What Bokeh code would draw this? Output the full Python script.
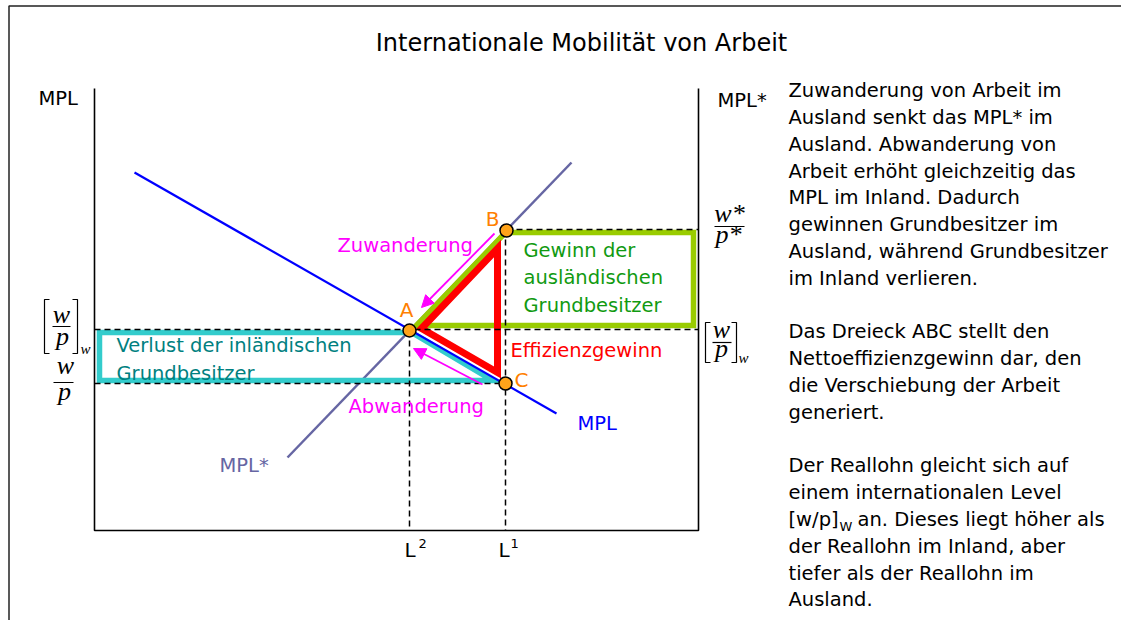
from bokeh.plotting import figure
from bokeh.models import Range1d, ColumnDataSource, Arrow, NormalHead
from bokeh.core.properties import value
from bokeh.embed import file_html
from bokeh.resources import INLINE

# ---------------- data (diagram coordinates) ----------------
title_text = "Internationale Mobilität von Arbeit"

# axes: left MPL axis, L axis, right MPL* axis
axis_x = [94, 94, 698, 698]
axis_y = [88, 530, 530, 88]

# marginal product curves
mpl_x = [134, 556]
mpl_y = [172, 413]
mpls_x = [287, 571]
mpls_y = [457, 162]

# equilibrium points
pt_names = ["A", "B", "C"]
pt_x = [409, 506, 505]
pt_y = [330, 230, 383]

# dashed guide lines
dash_xs = [[94, 698], [94, 505], [506, 698], [409, 409], [505, 505]]
dash_ys = [[329, 329], [383, 383], [229, 229], [330, 530], [229, 530]]

# areas
cyan_x = [99, 411, 492, 99]
cyan_y = [332, 332, 380, 380]
green_x = [416, 505, 693, 693]
green_y = [325, 232, 232, 325]
red_x = [421, 497, 497]
red_y = [328, 248, 372]

# migration arrows
arr_x0 = [494, 482]
arr_y0 = [233, 384]
arr_x1 = [421, 413]
arr_y1 = [307, 348]

# chart labels
lab_text = ["Zuwanderung", "Abwanderung", "Gewinn der", "ausländischen", "Grundbesitzer",
            "Effizienzgewinn", "Verlust der inländischen", "Grundbesitzer", "MPL", "MPL*",
            "MPL", "MPL*"]
lab_x = [337, 348, 523, 523, 523, 510, 116, 116, 577, 219, 38, 717]
lab_y = [253, 414, 258, 285, 313, 358, 353, 381, 431, 473, 106, 108]
lab_col = ["#FF00FF", "#FF00FF", "#119A11", "#119A11", "#119A11", "#FF0000",
           "#008080", "#008080", "#0000FF", "#6666A3", "black", "black"]

pt_lab_x = [406, 492, 521]
pt_lab_y = [317, 226, 387]

# L axis labels
l_x = [404, 498]
l_y = [557, 557]
l_sup = ["2", "1"]
l_sup_x = [418, 510]
l_sup_y = [548, 548]

# wage fractions (italic serif)
frac_text = ["w", "p", "w", "p", "w*", "p*", "w", "p"]
frac_x = [61, 62, 65, 64, 729, 728, 721, 721]
frac_y = [324, 346, 375, 401, 223, 244, 339, 358]
sub_text = ["w", "w"]
sub_x = [80, 738]
sub_y = [354, 363]
bar_xs = [[52, 70], [53, 73], [714, 744], [712, 731]]
bar_ys = [[326, 326], [382, 382], [226, 226], [342, 342]]
brk_xs = [[49, 44, 44, 49], [72, 77, 77, 72], [710, 705, 705, 710], [731, 736, 736, 731]]
brk_ys = [[299, 299, 353, 353], [299, 299, 353, 353], [322, 322, 362, 362], [322, 322, 362, 362]]

# explanatory text
para_lines = ["Zuwanderung von Arbeit im", "Ausland senkt das MPL* im", "Ausland. Abwanderung von",
              "Arbeit erhöht gleichzeitig das", "MPL im Inland. Dadurch", "gewinnen Grundbesitzer im",
              "Ausland, während Grundbesitzer", "im Inland verlieren.",
              "Das Dreieck ABC stellt den", "Nettoeffizienzgewinn dar, den", "die Verschiebung der Arbeit",
              "generiert.",
              "Der Reallohn gleicht sich auf", "einem internationalen Level", "[w/p]",
              "der Reallohn im Inland, aber", "tiefer als der Reallohn im", "Ausland."]
para_rows = [0, 1, 2, 3, 4, 5, 6, 7, 9, 10, 11, 12, 14, 15, 16, 17, 18, 19]
para_x0 = 788
para_base = 98
para_pitch = 26.8

# ---------------- figure ----------------
W, H = 1121, 620
p = figure(width=W, height=H, x_range=Range1d(0, W), y_range=Range1d(H, 0),
           x_axis_type=None, y_axis_type=None, output_backend="svg",
           toolbar_location=None, min_border=0)
p.grid.visible = False
p.outline_line_color = None
p.background_fill_color = "white"

SANS = value("DejaVu Sans")
SERIF = value("Liberation Serif")


def bl(ys, size):
    # compensate the renderer's baseline placement (glyphs sit ~0.4em low)
    return [y - 0.4 * size for y in ys]


# frame border
p.line([8.5, 8.5, 1200], [640, 5.5, 5.5], line_color="#222222", line_width=1.5)

# axes
p.line(axis_x, axis_y, line_color="black", line_width=1.6)

# curves and areas
p.line(mpls_x, mpls_y, line_color="#6666A3", line_width=2.5)
p.patch(cyan_x, cyan_y, fill_color=None, line_color="#33CCCC", line_width=5.5, line_join="miter")
p.line(mpl_x, mpl_y, line_color="#0000FF", line_width=2.2)
p.patch(green_x, green_y, fill_color=None, line_color="#99CC00", line_width=5.5, line_join="miter")
p.patch(red_x, red_y, fill_color=None, line_color="#FF0000", line_width=7, line_join="miter")

# dashed lines
p.multi_line(dash_xs, dash_ys, line_color="black", line_width=1.5, line_dash="6 4")

# arrows
arr_src = ColumnDataSource(dict(x0=arr_x0, y0=arr_y0, x1=arr_x1, y1=arr_y1))
p.add_layout(Arrow(source=arr_src, x_start="x0", y_start="y0", x_end="x1", y_end="y1",
                   line_color="#FF00FF", line_width=1.8,
                   end=NormalHead(size=12, fill_color="#FF00FF", line_color="#FF00FF")))

# points
p.scatter(pt_x, pt_y, size=13, fill_color="#FFA31A", line_color="black", line_width=1.5)

# title
p.text([581], bl([52], 24), text=[title_text], text_font=SANS, text_font_size="24px",
       text_align="center", text_baseline="alphabetic", text_color="black")

# labels
p.text(lab_x, bl(lab_y, 19.5), text=lab_text, text_color=lab_col, text_font=SANS,
       text_font_size="19.5px", text_align="left", text_baseline="alphabetic")
p.text(pt_lab_x, bl(pt_lab_y, 20), text=pt_names, text_color="#FF8000", text_font=SANS,
       text_font_size="20px", text_align="center", text_baseline="alphabetic")
p.text(l_x, bl(l_y, 20), text=["L", "L"], text_color="black", text_font=SANS, text_font_size="20px",
       text_align="left", text_baseline="alphabetic")
p.text(l_sup_x, bl(l_sup_y, 13), text=l_sup, text_color="black", text_font=SANS,
       text_font_size="13px", text_align="left", text_baseline="alphabetic")

# fractions
p.text(frac_x, bl(frac_y, 26), text=frac_text, text_color="black", text_font=SERIF,
       text_font_size="26px", text_font_style="italic", text_align="center",
       text_baseline="alphabetic")
p.text(sub_x, bl(sub_y, 15), text=sub_text, text_color="black", text_font=SERIF,
       text_font_size="15px", text_font_style="italic", text_align="left",
       text_baseline="alphabetic")
p.multi_line(bar_xs, bar_ys, line_color="black", line_width=1.2)
p.multi_line(brk_xs, brk_ys, line_color="black", line_width=1.2)

# paragraph
para_y = [para_base + para_pitch * r for r in para_rows]
p.text([para_x0] * len(para_lines), bl(para_y, 19.5), text=para_lines, text_color="black",
       text_font=SANS, text_font_size="19.5px", text_align="left", text_baseline="alphabetic")
y_sub = para_base + para_pitch * 16
p.text([839], bl([y_sub + 4], 13), text=["W"], text_color="black", text_font=SANS,
       text_font_size="13px", text_align="left", text_baseline="alphabetic")
p.text([857], bl([y_sub], 19.5), text=["an. Dieses liegt höher als"], text_color="black",
       text_font=SANS, text_font_size="19.5px", text_align="left", text_baseline="alphabetic")

open("out.html", "w").write(file_html(p, INLINE))
